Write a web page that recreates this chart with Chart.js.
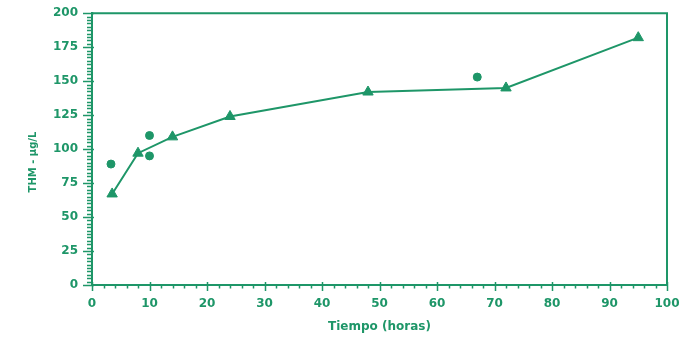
<!DOCTYPE html>
<html>
<head>
<meta charset="utf-8">
<script src="https://cdn.jsdelivr.net/npm/chart.js@4/dist/chart.umd.min.js"></script>
<style>
  html, body { margin: 0; padding: 0; background: #fff; }
  canvas { display: block; }
</style>
</head>
<body>
<canvas id="thmChart" width="693" height="338"></canvas>
<script>
// curve (triangles)
var lineHours = [3.5, 8, 14, 24, 48, 72, 95];
var lineTHM = [67, 97, 109, 124, 142, 145, 182];
// loose points (circles)
var dotHours = [3.3, 10, 10, 67];
var dotTHM = [89, 110, 95, 153];

var xTicks = [0, 10, 20, 30, 40, 50, 60, 70, 80, 90, 100];
var yTicks = [0, 25, 50, 75, 100, 125, 150, 175, 200];

var green = "rgb(30, 150, 104)";
var tickFont = { family: "DejaVu Sans", size: 12, weight: "bold" };

function toPoints(xs, ys) {
    return xs.map(function (x, i) { return { x: x, y: ys[i] }; });
}

// box + major/minor ticks, drawn from the scales
var frameTicks = {
    id: "frameTicks",
    afterDraw: function (chart) {
        var ctx = chart.ctx;
        var a = chart.chartArea;
        var xs = chart.scales.x;
        var ys = chart.scales.y;
        ctx.save();
        ctx.strokeStyle = green;
        ctx.lineWidth = 2;
        ctx.beginPath();
        ctx.moveTo(a.left, a.top);
        ctx.lineTo(a.right, a.top);
        ctx.lineTo(a.right, a.bottom);
        ctx.stroke();

        ctx.lineWidth = 1.5;
        ctx.beginPath();
        for (var v = 0; v <= 100; v += 2) {
            var px = Math.round(xs.getPixelForValue(v)) + 0.5;
            if (v % 10 == 0) {
                ctx.moveTo(px, a.bottom - 3);
                ctx.lineTo(px, a.bottom + 6);
            } else {
                ctx.moveTo(px, a.bottom);
                ctx.lineTo(px, a.bottom + 3.5);
            }
        }
        for (var w = 0; w <= 200; w += 2.5) {
            var py = Math.round(ys.getPixelForValue(w)) + 0.5;
            if (w % 25 == 0) {
                ctx.moveTo(a.left - 9, py);
                ctx.lineTo(a.left + 2, py);
            } else {
                ctx.moveTo(a.left - 5, py);
                ctx.lineTo(a.left, py);
            }
        }
        ctx.stroke();

        // y axis title
        ctx.fillStyle = green;
        ctx.font = "bold 10px 'DejaVu Sans'";
        ctx.textAlign = "center";
        ctx.textBaseline = "middle";
        ctx.translate(33, 162);
        ctx.rotate(-Math.PI / 2);
        ctx.fillText("THM - \u00b5g/L", 0, 0);
        ctx.restore();
    }
};

var ctx = document.getElementById("thmChart").getContext("2d");
var thmChart = new Chart(ctx, {
    type: "scatter",
    data: {
        datasets: [
            {
                label: "THM",
                data: toPoints(lineHours, lineTHM),
                showLine: true,
                borderColor: green,
                backgroundColor: green,
                borderWidth: 2,
                pointStyle: "triangle",
                pointRadius: 6,
                pointHoverRadius: 6,
                pointBorderWidth: 1,
                clip: false,
            },
            {
                label: "THM puntos",
                data: toPoints(dotHours, dotTHM),
                showLine: false,
                borderColor: green,
                backgroundColor: green,
                pointStyle: "circle",
                pointRadius: 4,
                pointHoverRadius: 4,
                clip: false,
            },
        ],
    },
    options: {
        responsive: false,
        animation: false,
        layout: { padding: { top: 6, right: 26, left: 0, bottom: 0 } },
        plugins: {
            legend: { display: false },
            tooltip: { enabled: false },
        },
        scales: {
            x: {
                type: "linear",
                min: 0,
                max: 100,
                afterBuildTicks: function (axis) {
                    axis.ticks = xTicks.map(function (v) { return { value: v }; });
                },
                afterFit: function (axis) { axis.height = 53; },
                grid: { display: false },
                border: { display: true, color: green, width: 2 },
                ticks: { color: green, font: tickFont, padding: 4, maxRotation: 0 },
                title: {
                    display: true,
                    text: "Tiempo (horas)",
                    color: green,
                    font: { family: "DejaVu Sans", size: 12, weight: "bold" },
                    padding: { top: 0, bottom: 4 },
                },
            },
            y: {
                type: "linear",
                min: 0,
                max: 200,
                afterBuildTicks: function (axis) {
                    axis.ticks = yTicks.map(function (v) { return { value: v }; });
                },
                afterFit: function (axis) { axis.width = 92; },
                grid: { display: false },
                border: { display: true, color: green, width: 2 },
                ticks: { color: green, font: tickFont, padding: 6 },
            },
        },
    },
    plugins: [frameTicks],
});
</script>
</body>
</html>
